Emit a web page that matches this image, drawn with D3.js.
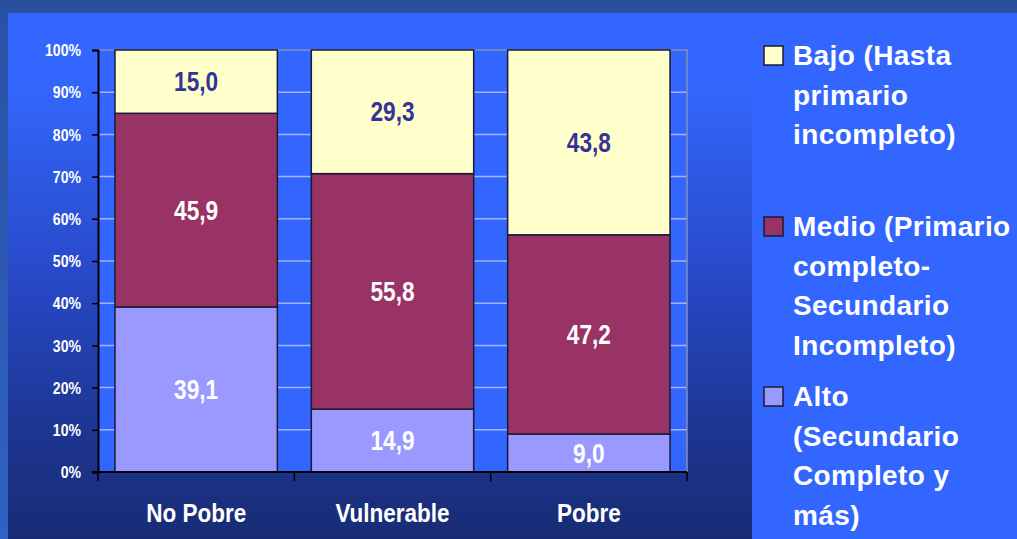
<!DOCTYPE html>
<html>
<head>
<meta charset="utf-8">
<script src="https://cdn.jsdelivr.net/npm/d3@7"></script>
<style>
  body { margin: 0; background: #2952a3; }
  svg { display: block; font-family: "Liberation Sans", Arial, sans-serif; }
</style>
</head>
<body>
<div class="chart"></div>
<script>
// categories and series (percent of each group)
const groups = ["No Pobre", "Vulnerable", "Pobre"];
const levels = ["Alto", "Medio", "Bajo"];
const alto = [39.1, 14.9, 9.0];
const medio = [45.9, 55.8, 47.2];
const bajo = [15.0, 29.3, 43.8];
const yTicks = [0, 10, 20, 30, 40, 50, 60, 70, 80, 90, 100];

// legend lines, top to bottom
const legendItems = [
  { key: "Bajo", lines: ["Bajo (Hasta", "primario", "incompleto)"] },
  { key: "Medio", lines: ["Medio (Primario", "completo-", "Secundario", "Incompleto)"] },
  { key: "Alto", lines: ["Alto", "(Secundario", "Completo y", "más)"] }
];

const colors = { Alto: "#9999ff", Medio: "#993366", Bajo: "#ffffcc" };
const labelColors = { Alto: "#ffffff", Medio: "#ffffff", Bajo: "#333399" };

const width = 1017;
const height = 539;
const plot = { left: 98, right: 687, top: 50, bottom: 472 };

const svg = d3.select(".chart").append("svg")
  .attr("width", width)
  .attr("height", height);

// backgrounds
const defs = svg.append("defs");
const panelGrad = defs.append("linearGradient")
  .attr("id", "panelGrad").attr("x1", 0).attr("y1", 0).attr("x2", 0).attr("y2", 1);
[[0, "#3366ff"], [0.14, "#3366fc"], [0.5, "#2849c8"], [0.8, "#1d3590"], [1, "#182c74"]]
  .forEach(s => panelGrad.append("stop").attr("offset", s[0]).attr("stop-color", s[1]));
const stripGrad = defs.append("linearGradient")
  .attr("id", "stripGrad").attr("x1", 0).attr("y1", 0).attr("x2", 0).attr("y2", 1);
[[0, "#2952a3"], [1, "#2f62c4"]]
  .forEach(s => stripGrad.append("stop").attr("offset", s[0]).attr("stop-color", s[1]));

svg.append("rect").attr("width", width).attr("height", height).attr("fill", "#28509c");
svg.append("rect").attr("x", 0).attr("y", 13).attr("width", 8).attr("height", height - 13)
  .attr("fill", "url(#stripGrad)");
svg.append("rect").attr("x", 8).attr("y", 13).attr("width", 744).attr("height", height - 13)
  .attr("fill", "url(#panelGrad)");
svg.append("rect").attr("x", 752).attr("y", 13).attr("width", width - 752).attr("height", height - 13)
  .attr("fill", "#3366ff");

// scales
const x = d3.scaleBand().domain(groups).range([plot.left, plot.right]).paddingInner(0.173).paddingOuter(0.0865);
const xBand = d3.scaleBand().domain(groups).range([plot.left, plot.right]);
const y = d3.scaleLinear().domain([0, 100]).range([plot.bottom, plot.top]);

// plot area
svg.append("rect")
  .attr("x", plot.left).attr("y", plot.top)
  .attr("width", plot.right - plot.left).attr("height", plot.bottom - plot.top)
  .attr("fill", "#3366ff");

svg.append("g").selectAll("line")
  .data(yTicks.filter(d => d > 0 && d < 100))
  .join("line")
  .attr("x1", plot.left).attr("x2", plot.right)
  .attr("y1", d => y(d)).attr("y2", d => y(d))
  .attr("stroke", "#a3b3ff").attr("stroke-width", 1.5);

svg.append("path")
  .attr("d", `M${plot.left},${plot.top}H${plot.right}V${plot.bottom}`)
  .attr("fill", "none").attr("stroke", "#8591b3").attr("stroke-width", 1.5);

// stacked data
const table = groups.map((g, i) => ({ group: g, Alto: alto[i], Medio: medio[i], Bajo: bajo[i] }));
const stacked = d3.stack().keys(levels)(table);

const layers = svg.append("g").selectAll("g")
  .data(stacked)
  .join("g")
  .attr("fill", d => colors[d.key]);

layers.selectAll("rect")
  .data(d => d)
  .join("rect")
  .attr("x", d => x(d.data.group))
  .attr("width", x.bandwidth())
  .attr("y", d => y(d[1]))
  .attr("height", d => y(d[0]) - y(d[1]))
  .attr("stroke", "#1c1a33")
  .attr("stroke-width", 1.5);

// value labels
layers.each(function(layer) {
  d3.select(this).selectAll("text")
    .data(layer)
    .join("text")
    .attr("transform", d => {
      const cx = x(d.data.group) + x.bandwidth() / 2;
      const cy = y((d[0] + d[1]) / 2) + 9.5;
      return `translate(${cx},${cy}) scale(0.84,1)`;
    })
    .attr("text-anchor", "middle")
    .attr("font-size", 27)
    .attr("font-weight", "bold")
    .attr("fill", labelColors[layer.key])
    .text(d => d3.format(".1f")(d[1] - d[0]).replace(".", ","));
});

// y axis
const yAxis = svg.append("g")
  .attr("transform", `translate(${plot.left},0)`)
  .call(d3.axisLeft(y).tickValues(yTicks).tickSize(6).tickPadding(17).tickFormat(d => d + "%"));
yAxis.select(".domain").attr("stroke", "#000").attr("stroke-width", 2);
yAxis.selectAll(".tick line").attr("stroke", "#000").attr("stroke-width", 1.5);
yAxis.selectAll(".tick text")
  .attr("fill", "#ffffff")
  .attr("font-size", 16)
  .attr("font-weight", "bold")
  .attr("font-family", "Liberation Sans, Arial, sans-serif")
  .attr("transform", "scale(0.88,1)")
  .attr("x", -17 / 0.88)
  .attr("dy", "0.36em");

// x axis: ticks at the band boundaries
svg.append("line")
  .attr("x1", plot.left - 6).attr("x2", plot.right)
  .attr("y1", plot.bottom).attr("y2", plot.bottom)
  .attr("stroke", "#000").attr("stroke-width", 2);
const bounds = groups.map(g => xBand(g)).concat([plot.right]);
svg.append("g").selectAll("line")
  .data(bounds)
  .join("line")
  .attr("x1", d => d).attr("x2", d => d)
  .attr("y1", plot.bottom).attr("y2", plot.bottom + 9)
  .attr("stroke", "#000").attr("stroke-width", 1.5);

svg.append("g").selectAll("text")
  .data(groups)
  .join("text")
  .attr("transform", d => `translate(${xBand(d) + xBand.bandwidth() / 2},522) scale(0.9,1)`)
  .attr("text-anchor", "middle")
  .attr("font-size", 25)
  .attr("font-weight", "bold")
  .attr("fill", "#ffffff")
  .text(d => d);

// legend
const legendTop = [46, 217, 387];
const legend = svg.append("g").selectAll("g")
  .data(legendItems)
  .join("g")
  .attr("transform", (d, i) => `translate(764,${legendTop[i]})`);

legend.append("rect")
  .attr("width", 19).attr("height", 19)
  .attr("fill", d => colors[d.key])
  .attr("stroke", "#1c1a33").attr("stroke-width", 1.5);

legend.selectAll("text")
  .data(d => d.lines)
  .join("text")
  .attr("x", 29)
  .attr("y", (d, i) => 19 + i * 39.5)
  .attr("font-size", 28)
  .attr("font-weight", "bold")
  .attr("letter-spacing", 0.4)
  .attr("fill", "#ffffff")
  .text(d => d);
</script>
</body>
</html>
